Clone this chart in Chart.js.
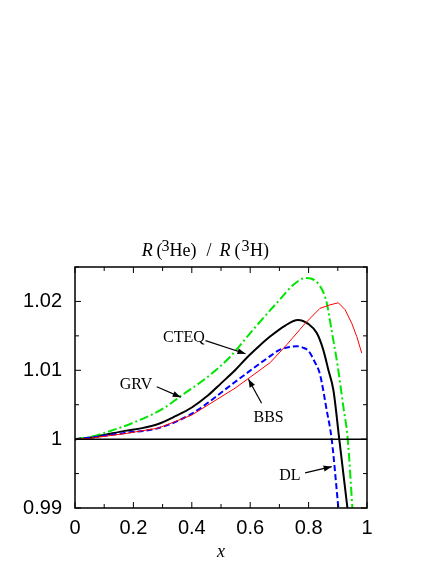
<!DOCTYPE html>
<html>
<head>
<meta charset="utf-8">
<script src="https://cdn.jsdelivr.net/npm/chart.js@4.4.0/dist/chart.umd.min.js"></script>
<style>
body { margin: 0; background: #fff; }
#wrap { width: 443px; height: 573px; position: relative; }
</style>
</head>
<body>
<div id="wrap"><canvas id="grafico"></canvas></div>
<script>
/* valores */
const grvX = [0, 0.05, 0.1, 0.2, 0.3, 0.36, 0.45, 0.53, 0.61, 0.70, 0.75, 0.79, 0.82, 0.845, 0.862, 0.878, 0.90, 0.918, 0.934, 0.95]
const grvY = [1.0, 1.0003, 1.0009, 1.0024, 1.0044, 1.0062, 1.0089, 1.0119, 1.0159, 1.0202, 1.0225, 1.0234, 1.0231, 1.0218, 1.0198, 1.016, 1.0105, 1.005, 1.0, 0.99]

const cteqX = [0, 0.05, 0.1, 0.17, 0.23, 0.285, 0.342, 0.40, 0.457, 0.50, 0.548, 0.59, 0.63, 0.668, 0.72, 0.763, 0.80, 0.828, 0.85, 0.868, 0.885, 0.905, 0.933]
const cteqY = [1.0, 1.0002, 1.0006, 1.0012, 1.0016, 1.0022, 1.0033, 1.0046, 1.0064, 1.0081, 1.0100, 1.0119, 1.0135, 1.0149, 1.0165, 1.0173, 1.0167, 1.0154, 1.0130, 1.0100, 1.0071, 1.0, 0.99]

const dlX = [0, 0.05, 0.1, 0.171, 0.285, 0.40, 0.548, 0.611, 0.66, 0.702, 0.735, 0.759, 0.78, 0.80, 0.82, 0.839, 0.862, 0.879, 0.902]
const dlY = [1.0, 1.0002, 1.0005, 1.0009, 1.0016, 1.0037, 1.0083, 1.0103, 1.0118, 1.0130, 1.0134, 1.0135, 1.0133, 1.0128, 1.0113, 1.0094, 1.0042, 1.0, 0.99]

const bbsX = [0, 0.05, 0.1, 0.171, 0.285, 0.40, 0.548, 0.60, 0.668, 0.725, 0.788, 0.839, 0.873, 0.902, 0.925, 0.948, 0.965, 0.982]
const bbsY = [1.0, 1.0001, 1.0004, 1.0008, 1.0016, 1.0035, 1.0074, 1.0090, 1.0111, 1.0137, 1.0168, 1.0190, 1.0195, 1.0198, 1.0188, 1.0168, 1.0149, 1.0125]

const unoX = [0, 1]
const unoY = [1, 1]

const xTicks = [0, 0.2, 0.4, 0.6, 0.8, 1]
const xMinor = [0.1, 0.3, 0.5, 0.7, 0.9]
const yTicks = [0.99, 1.0, 1.01, 1.02]
const yMinor = [0.995, 1.005, 1.015, 1.025]

/* etiquetas con flecha (coordenadas de datos) */
const etiquetas = [
    { texto: "CTEQ", x: 0.373, y: 1.0147, desde: [0.447, 1.0143], hasta: [0.584, 1.0124] },
    { texto: "GRV", x: 0.209, y: 1.0079, desde: [0.28, 1.0076], hasta: [0.362, 1.0061] },
    { texto: "BBS", x: 0.663, y: 1.0031, desde: [0.639, 1.0052], hasta: [0.594, 1.0087] },
    { texto: "DL", x: 0.736, y: 0.9947, desde: [0.788, 0.9951], hasta: [0.879, 0.9960] }
]

const juntar = (xs, ys) => xs.map((x, i) => ({ x: x, y: ys[i] }))

const flecha = (ctx, x1, y1, x2, y2) => {
    ctx.beginPath()
    ctx.moveTo(x1, y1)
    ctx.lineTo(x2, y2)
    ctx.stroke()
    const ang = Math.atan2(y2 - y1, x2 - x1)
    const L = 8, W = 3
    ctx.beginPath()
    ctx.moveTo(x2, y2)
    ctx.lineTo(x2 - L * Math.cos(ang) + W * Math.sin(ang), y2 - L * Math.sin(ang) - W * Math.cos(ang))
    ctx.lineTo(x2 - L * Math.cos(ang) - W * Math.sin(ang), y2 - L * Math.sin(ang) + W * Math.cos(ang))
    ctx.closePath()
    ctx.fill()
}

/* marco, ticks hacia adentro, titulo y textos */
const extras = {
    id: 'extras',
    afterDatasetsDraw(chart) {
        const { ctx, chartArea: a, scales: { x, y } } = chart
        ctx.save()
        ctx.strokeStyle = '#000'
        ctx.fillStyle = '#000'
        ctx.lineWidth = 1
        const tick = (vals, len) => {
            vals.forEach(v => {
                const px = x.getPixelForValue(v)
                ctx.beginPath()
                ctx.moveTo(px, a.bottom); ctx.lineTo(px, a.bottom - len)
                ctx.moveTo(px, a.top); ctx.lineTo(px, a.top + len)
                ctx.stroke()
            })
        }
        const tickY = (vals, len) => {
            vals.forEach(v => {
                const py = y.getPixelForValue(v)
                ctx.beginPath()
                ctx.moveTo(a.left, py); ctx.lineTo(a.left + len, py)
                ctx.moveTo(a.right, py); ctx.lineTo(a.right - len, py)
                ctx.stroke()
            })
        }
        tick(xTicks, 6); tick(xMinor, 4)
        tickY(yTicks, 6); tickY(yMinor, 4)
        ctx.lineWidth = 1.5
        ctx.strokeRect(a.left, a.top, a.right - a.left, a.bottom - a.top)

        // textos de las curvas
        ctx.lineWidth = 1.2
        ctx.font = '16px "Liberation Serif"'
        ctx.textAlign = 'center'
        ctx.textBaseline = 'middle'
        etiquetas.forEach(e => {
            ctx.fillText(e.texto, x.getPixelForValue(e.x), y.getPixelForValue(e.y))
            flecha(ctx, x.getPixelForValue(e.desde[0]), y.getPixelForValue(e.desde[1]),
                x.getPixelForValue(e.hasta[0]), y.getPixelForValue(e.hasta[1]))
        })

        // titulo R(3He) / R(3H)
        ctx.textAlign = 'left'
        ctx.textBaseline = 'alphabetic'
        const partes = [
            ['R', 'italic 18px "Liberation Serif"', 141.7, 256],
            ['(', '18px "Liberation Serif"', 156.5, 256],
            ['3', '16px "Liberation Serif"', 161.5, 251],
            ['He)', '18px "Liberation Serif"', 169.5, 256],
            ['/', '18px "Liberation Serif"', 206.5, 256],
            ['R', 'italic 18px "Liberation Serif"', 219.5, 256],
            ['(', '18px "Liberation Serif"', 234.5, 256],
            ['3', '16px "Liberation Serif"', 241.5, 251],
            ['H)', '18px "Liberation Serif"', 250, 256]
        ]
        partes.forEach(p => {
            ctx.font = p[1]
            ctx.fillText(p[0], p[2], p[3])
        })

        // etiqueta eje x
        ctx.font = 'italic 18px "Liberation Serif"'
        ctx.textAlign = 'center'
        ctx.fillText('x', (a.left + a.right) / 2, 557)
        ctx.restore()
    }
}

const data = {
    datasets: [
        { data: juntar(unoX, unoY), borderColor: '#000', borderWidth: 1.5, tension: 0 },
        { label: 'BBS', data: juntar(bbsX, bbsY), borderColor: '#ff0000', borderWidth: 1, tension: 0 },
        { label: 'DL', data: juntar(dlX, dlY), borderColor: '#0000ff', borderWidth: 2, borderDash: [6, 3], cubicInterpolationMode: 'monotone' },
        { label: 'GRV', data: juntar(grvX, grvY), borderColor: '#00e600', borderWidth: 2, borderDash: [9, 3, 2, 3], cubicInterpolationMode: 'monotone' },
        { label: 'CTEQ', data: juntar(cteqX, cteqY), borderColor: '#000', borderWidth: 2, cubicInterpolationMode: 'monotone' }
    ]
}

const config = {
    type: 'line',
    data: data,
    options: {
        responsive: true,
        maintainAspectRatio: false,
        animation: false,
        elements: { point: { radius: 0 } },
        layout: { padding: { left: 0, right: 76, top: 267, bottom: 0 } },
        plugins: { legend: { display: false }, tooltip: { enabled: false } },
        scales: {
            x: {
                type: 'linear', min: 0, max: 1,
                afterFit: (s) => { s.height = 65 },
                grid: { display: false, drawTicks: false },
                border: { display: false },
                ticks: {
                    stepSize: 0.2, padding: 8, color: '#000',
                    font: { family: 'Liberation Sans', size: 20 },
                    callback: (v) => String(+v.toFixed(1))
                }
            },
            y: {
                type: 'linear', min: 0.99, max: 1.025,
                afterFit: (s) => { s.width = 75 },
                grid: { display: false, drawTicks: false },
                border: { display: false },
                ticks: {
                    stepSize: 0.01, includeBounds: false, padding: 13, color: '#000',
                    font: { family: 'Liberation Sans', size: 20 },
                    callback: (v) => String(+v.toFixed(2))
                }
            }
        }
    },
    plugins: [extras]
}

new Chart(document.getElementById('grafico'), config)
</script>
</body>
</html>
